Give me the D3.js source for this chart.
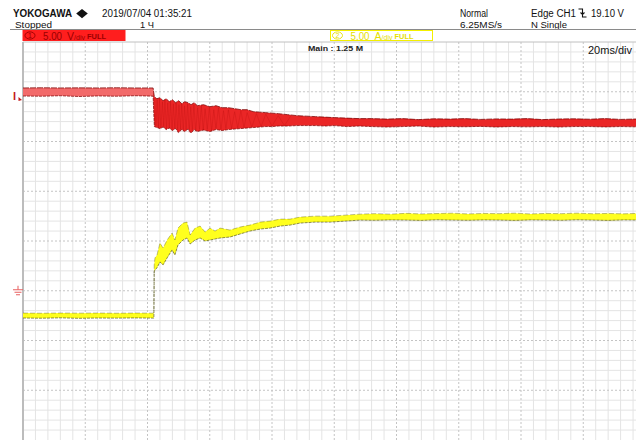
<!DOCTYPE html>
<html>
<head>
<meta charset="utf-8">
<script src="https://cdn.jsdelivr.net/npm/d3@7"></script>
<style>
  html, body { margin: 0; padding: 0; background: #fff; }
  svg { display: block; }
  text { font-family: "Liberation Sans", Arial, sans-serif; }
</style>
</head>
<body>
<svg id="scope" width="636" height="440"></svg>
<script>
// ---- acquisition settings ----
const timePerDiv = 20;          // ms/div
const ch1VoltsPerDiv = 5;       // V/div
const ch2AmpsPerDiv = 5;        // A/div
const timeWindow = [-42, 158];  // ms, trigger at 0

// ---- CH1 voltage envelope: [t (ms), max (V), min (V)] ----
const ch1Envelope = [
  [-42, 20.38, 19.57], [-36, 20.40, 19.55], [-30, 20.38, 19.60], [-24, 20.39, 19.52],
  [-18, 20.38, 19.58], [-12, 20.40, 19.55], [-6, 20.38, 19.60], [-0.2, 20.38, 19.56],
  [0.2, 19.5, 16.5], [1, 19.3, 16.4], [2, 19.4, 16.3], [3, 19.1, 16.45], [4, 19.3, 16.2],
  [5, 19.0, 16.35], [6, 19.2, 16.1], [7, 18.9, 16.3], [8, 19.1, 15.9], [9, 18.8, 16.2],
  [10, 19.0, 16.0], [11, 18.9, 16.25], [12, 18.7, 15.85], [13, 18.9, 16.2], [14, 18.6, 16.0],
  [16, 18.7, 16.15], [18, 18.5, 16.0], [20, 18.6, 16.2], [22, 18.4, 16.1], [24, 18.4, 16.2],
  [26, 18.3, 16.25], [28, 18.2, 16.3], [30, 18.2, 16.35], [32, 18.0, 16.4], [34, 17.95, 16.45],
  [36, 17.9, 16.5], [38, 17.85, 16.5], [40, 17.8, 16.55], [43, 17.7, 16.55], [46, 17.6, 16.6],
  [49, 17.55, 16.6], [52, 17.5, 16.6], [55, 17.45, 16.55], [58, 17.4, 16.6], [62, 17.35, 16.5],
  [66, 17.3, 16.55], [70, 17.3, 16.5], [75, 17.25, 16.45], [80, 17.3, 16.5], [85, 17.2, 16.55],
  [90, 17.28, 16.45], [95, 17.25, 16.5], [100, 17.3, 16.48], [105, 17.22, 16.52], [110, 17.27, 16.45],
  [115, 17.25, 16.5], [120, 17.3, 16.47], [125, 17.2, 16.5], [130, 17.26, 16.45], [135, 17.28, 16.5],
  [140, 17.24, 16.5], [145, 17.3, 16.46], [150, 17.22, 16.5], [155, 17.26, 16.47], [158, 17.25, 16.5]
];

// ---- CH1 ringing after the load step: [t (ms), V] ----
const ch1Ringing = [
  [0.3, 19.4], [0.7, 16.6], [1.1, 19.2], [1.5, 16.4], [1.9, 19.3], [2.3, 16.3], [2.8, 19.0],
  [3.2, 16.5], [3.6, 19.2], [4.1, 16.2], [4.5, 18.9], [5.0, 16.4], [5.4, 19.0], [5.9, 16.1],
  [6.3, 18.8], [6.8, 16.3], [7.2, 19.0], [7.7, 15.9], [8.1, 18.7], [8.6, 16.2], [9.0, 18.9],
  [9.5, 16.0], [9.9, 18.6], [10.4, 16.2], [10.9, 18.8], [11.4, 15.9], [11.9, 18.5], [12.4, 16.1],
  [12.9, 18.7], [13.5, 16.0], [14.1, 18.4], [14.7, 16.2], [15.3, 18.6], [15.9, 16.1], [16.5, 18.3],
  [17.2, 16.2], [17.9, 18.5], [18.6, 16.0], [19.3, 18.2], [20.0, 16.3], [20.8, 18.4], [21.6, 16.2],
  [22.4, 18.1], [23.2, 16.3], [24.0, 18.2], [25, 16.3], [26, 18.0], [27, 16.35], [28, 18.1],
  [29, 16.4], [30, 17.9], [31.5, 16.45], [33, 17.8], [34.5, 16.5], [36, 17.75], [38, 16.55],
  [40, 17.6], [42, 16.6], [44, 17.55]
];

// ---- CH2 current envelope: [t (ms), max (A), min (A)] ----
const ch2Envelope = [
  [-42, 0.26, -0.24], [-36, 0.24, -0.26], [-30, 0.26, -0.22], [-24, 0.25, -0.27],
  [-18, 0.26, -0.24], [-12, 0.24, -0.25], [-6, 0.26, -0.23], [-0.1, 0.25, -0.25],
  [0.05, 0.4, -0.25], [0.15, 5.1, 4.4], [0.4, 5.8, 4.6], [1.06, 6.1, 4.8], [2.0, 7.3, 5.4],
  [3.0, 6.8, 5.1], [4.3, 7.6, 5.8], [5.9, 8.3, 6.6], [6.8, 7.6, 6.1], [7.8, 8.8, 7.1],
  [9.4, 9.3, 7.6], [10.7, 9.4, 7.8], [11.7, 8.1, 7.2], [13.3, 8.8, 7.6], [14.9, 9.0, 7.8],
  [16.5, 8.4, 7.5], [18.1, 8.8, 7.6], [19.7, 8.5, 7.7], [21.3, 8.8, 7.8], [24.5, 8.6, 7.9],
  [27.7, 8.9, 8.2], [30.9, 9.1, 8.5], [34.2, 9.4, 8.7], [37.4, 9.5, 8.8], [40.6, 9.7, 9.0],
  [43.8, 9.7, 9.1], [47, 9.9, 9.3], [51.8, 10.0, 9.4], [56.7, 10.0, 9.4], [61.5, 10.1, 9.5],
  [66.3, 10.2, 9.6], [71, 10.25, 9.58], [76, 10.2, 9.62], [81, 10.28, 9.6], [86, 10.22, 9.57],
  [91, 10.26, 9.63], [96, 10.3, 9.6], [101, 10.22, 9.58], [106, 10.27, 9.62], [111, 10.25, 9.6],
  [116, 10.3, 9.57], [121, 10.22, 9.62], [126, 10.27, 9.6], [131, 10.25, 9.58], [136, 10.3, 9.63],
  [141, 10.24, 9.6], [146, 10.27, 9.57], [151, 10.23, 9.62], [156, 10.28, 9.6], [158, 10.25, 9.6]
];

// ---- screen texts ----
const headerLeft = { brand: "YOKOGAWA", date: "2019/07/04 01:35:21", state: "Stopped", count: "1 Ч" };
const headerRight = { mode: "Normal", rate: "6.25MS/s", trig: "Edge CH1", level: "19.10 V", acq: "N Single" };
const ch1Label = ["1", "5.00", "V/div", "FULL"];
const ch2Label = ["2", "5.00", "A/div", "FULL"];
const recordLabel = "Main : 1.25 M";
const timebaseLabel = "20ms/div";

// ---- layout ----
const W = 636, H = 440;
const plot = { left: 23, top: 42, right: 645.5, bottom: 440 };
const svg = d3.select("#scope");

const nDivX = (timeWindow[1] - timeWindow[0]) / timePerDiv;   // 10
const x = d3.scaleLinear().domain(timeWindow).range([plot.left, plot.right]);
const yDiv = d3.scaleLinear().domain([0, 8]).range([plot.bottom, plot.top]);
// channel offsets: CH1 ground at +3 div, CH2 zero at +2.5 div
const yV = d3.scaleLinear().domain([0, 8 * ch1VoltsPerDiv]).range([yDiv(3), yDiv(11)]);
const yA = d3.scaleLinear().domain([0, 8 * ch2AmpsPerDiv]).range([yDiv(2.5), yDiv(10.5)]);

svg.append("rect").attr("width", W).attr("height", H).attr("fill", "#fff");

svg.append("defs").append("clipPath").attr("id", "plotClip")
  .append("rect").attr("x", plot.left).attr("y", plot.top)
  .attr("width", W - plot.left).attr("height", plot.bottom - plot.top);

// ---- graticule ----
const grid = svg.append("g");
const minorX = d3.range(0, nDivX * 5 + 1).map(k => timeWindow[0] + k * timePerDiv / 5);
const minorY = d3.range(0, 8 * 5 + 1).map(k => k / 5);

grid.selectAll(".vmin").data(minorX.filter((d, i) => i % 5 !== 0)).join("line")
  .attr("x1", d => x(d)).attr("x2", d => x(d))
  .attr("y1", plot.top).attr("y2", plot.bottom)
  .attr("stroke", "#e4e4e4").attr("stroke-width", 1);
grid.selectAll(".hmin").data(minorY.filter((d, i) => i % 5 !== 0)).join("line")
  .attr("x1", plot.left).attr("x2", W)
  .attr("y1", d => yDiv(d)).attr("y2", d => yDiv(d))
  .attr("stroke", "#e4e4e4").attr("stroke-width", 1);
grid.selectAll(".vmaj").data(minorX.filter((d, i) => i % 5 === 0 && i > 0)).join("line")
  .attr("x1", d => x(d)).attr("x2", d => x(d))
  .attr("y1", plot.top).attr("y2", plot.bottom)
  .attr("stroke", "#c4c4c4").attr("stroke-width", 1).attr("stroke-dasharray", "2,2");
grid.selectAll(".hmaj").data(d3.range(1, 8)).join("line")
  .attr("x1", plot.left).attr("x2", W)
  .attr("y1", d => yDiv(d)).attr("y2", d => yDiv(d))
  .attr("stroke", "#c4c4c4").attr("stroke-width", 1).attr("stroke-dasharray", "2,2");
// frame
grid.append("line").attr("x1", plot.left).attr("x2", W).attr("y1", plot.top).attr("y2", plot.top)
  .attr("stroke", "#c0c0c0").attr("stroke-width", 1);
grid.append("line").attr("x1", plot.left).attr("x2", plot.left).attr("y1", plot.top).attr("y2", plot.bottom)
  .attr("stroke", "#bcbcbc").attr("stroke-width", 2);

// ---- waveforms ----
const traces = svg.append("g").attr("clip-path", "url(#plotClip)");

function drawTrace(env, yScale, opts) {
  const area = d3.area().x(d => x(d[0])).y0(d => yScale(d[2])).y1(d => yScale(d[1]));
  const pre = env.filter(d => d[0] < 0);
  traces.append("path").datum(pre).attr("d", area).attr("fill", opts.preFill);
  traces.append("path").datum(env.filter(d => d[0] >= pre[pre.length - 1][0])).attr("d", area).attr("fill", opts.fill);
  const top = d3.line().x(d => x(d[0])).y(d => yScale(d[1]));
  const bot = d3.line().x(d => x(d[0])).y(d => yScale(d[2]));
  traces.append("path").datum(env).attr("d", top).attr("fill", "none")
    .attr("stroke", opts.edge).attr("stroke-width", opts.edgeW).attr("stroke-opacity", opts.topOpacity)
    .attr("stroke-dasharray", opts.topDash || null);
  traces.append("path").datum(env).attr("d", bot).attr("fill", "none")
    .attr("stroke", opts.edge).attr("stroke-width", opts.edgeW).attr("stroke-opacity", opts.botOpacity)
    .attr("stroke-dasharray", opts.botDash || null);
}

drawTrace(ch2Envelope, yA, {
  preFill: "#ffff1e", fill: "#ffff1e", edge: "#4a4a10", edgeW: 0.9,
  topOpacity: 0.4, botOpacity: 0.7, topDash: "5,2", botDash: "3,1"
});
drawTrace(ch1Envelope, yV, {
  preFill: "#f26a6a", fill: "#ea2626", edge: "#7a0000", edgeW: 1,
  topOpacity: 0.75, botOpacity: 0.7, topDash: "6,1", botDash: "3,1"
});

traces.append("path").datum(ch1Ringing)
  .attr("d", d3.line().x(d => x(d[0])).y(d => yV(d[1])))
  .attr("fill", "none").attr("stroke", "#9a0000").attr("stroke-width", 0.5).attr("stroke-opacity", 0.35);

// ---- channel markers ----
svg.append("text").attr("x", 13).attr("y", 100).text("I")
  .attr("font-family", "Liberation Serif, serif").attr("font-weight", "bold")
  .attr("font-size", 11).attr("fill", "#c41a1a");
svg.append("path").attr("d", "M18.5,97 L22,100 L18.5,101 Z").attr("fill", "#c41a1a");

const gnd = svg.append("g").attr("stroke", "#e86060").attr("stroke-width", 1).attr("fill", "none");
const gy = yV(0);
gnd.append("line").attr("x1", 18).attr("x2", 18).attr("y1", gy - 5).attr("y2", gy - 1);
gnd.append("line").attr("x1", 13).attr("x2", 23).attr("y1", gy - 1).attr("y2", gy - 1);
gnd.append("line").attr("x1", 14.5).attr("x2", 21.5).attr("y1", gy + 1.5).attr("y2", gy + 1.5);
gnd.append("line").attr("x1", 16).attr("x2", 20).attr("y1", gy + 4).attr("y2", gy + 4);

// ---- header ----
const hdr = svg.append("g").attr("fill", "#111");
hdr.append("text").attr("x", 13).attr("y", 17).text(headerLeft.brand)
  .attr("font-size", 11).attr("font-weight", "bold")
  .attr("textLength", 59).attr("lengthAdjust", "spacingAndGlyphs");
hdr.append("path").attr("d", "M82,9 L87.8,13.6 L82,18.2 L76.2,13.6 Z").attr("fill", "#111");
hdr.append("text").attr("x", 102).attr("y", 17).text(headerLeft.date)
  .attr("font-size", 10).attr("textLength", 90).attr("lengthAdjust", "spacingAndGlyphs");
hdr.append("text").attr("x", 15).attr("y", 28).text(headerLeft.state)
  .attr("font-size", 9.5).attr("textLength", 37).attr("lengthAdjust", "spacingAndGlyphs");
hdr.append("text").attr("x", 140).attr("y", 28).text(headerLeft.count)
  .attr("font-size", 9.5).attr("textLength", 14).attr("lengthAdjust", "spacingAndGlyphs");

hdr.append("text").attr("x", 460).attr("y", 16.5).text(headerRight.mode)
  .attr("font-size", 10).attr("textLength", 28).attr("lengthAdjust", "spacingAndGlyphs");
hdr.append("text").attr("x", 460).attr("y", 27.8).text(headerRight.rate)
  .attr("font-size", 9.5).attr("textLength", 42).attr("lengthAdjust", "spacingAndGlyphs");
hdr.append("text").attr("x", 531).attr("y", 16.5).text(headerRight.trig)
  .attr("font-size", 10).attr("textLength", 45).attr("lengthAdjust", "spacingAndGlyphs");
// falling-edge trigger symbol
hdr.append("path").attr("d", "M578.5,9 H582.5 V17 H586.5 M580.5,12.5 L582.5,14.5 L584.5,12.5")
  .attr("fill", "none").attr("stroke", "#111").attr("stroke-width", 1.1);
hdr.append("text").attr("x", 591).attr("y", 16.5).text(headerRight.level)
  .attr("font-size", 10).attr("textLength", 33).attr("lengthAdjust", "spacingAndGlyphs");
hdr.append("text").attr("x", 531).attr("y", 27.8).text(headerRight.acq)
  .attr("font-size", 9.5).attr("textLength", 36).attr("lengthAdjust", "spacingAndGlyphs");

svg.append("line").attr("x1", 10).attr("x2", W).attr("y1", 29.5).attr("y2", 29.5)
  .attr("stroke", "#8a8a8a").attr("stroke-width", 1);

// ---- channel setting boxes ----
function channelBox(x0, lbl, boxFill, boxStroke, ink) {
  const g = svg.append("g");
  g.append("rect").attr("x", x0).attr("y", 30.5).attr("width", 102).attr("height", 10)
    .attr("fill", boxFill).attr("stroke", boxStroke).attr("stroke-width", 1);
  g.append("ellipse").attr("cx", x0 + 7).attr("cy", 35.5).attr("rx", 5).attr("ry", 3.6)
    .attr("fill", "none").attr("stroke", ink).attr("stroke-width", 0.9);
  g.append("text").attr("x", x0 + 7).attr("y", 38.2).attr("text-anchor", "middle").text(lbl[0])
    .attr("font-size", 7).attr("fill", ink);
  g.append("text").attr("x", x0 + 20).attr("y", 39.5).text(lbl[1])
    .attr("font-size", 10.5).attr("fill", ink).attr("textLength", 19).attr("lengthAdjust", "spacingAndGlyphs");
  g.append("text").attr("x", x0 + 44).attr("y", 39.5).text(lbl[2].slice(0, 1))
    .attr("font-size", 10.5).attr("fill", ink);
  g.append("text").attr("x", x0 + 51).attr("y", 39.5).text(lbl[2].slice(1))
    .attr("font-size", 7).attr("fill", ink).attr("textLength", 11).attr("lengthAdjust", "spacingAndGlyphs");
  g.append("text").attr("x", x0 + 64).attr("y", 39).text(lbl[3])
    .attr("font-size", 7.5).attr("font-weight", "bold").attr("fill", ink)
    .attr("textLength", 19).attr("lengthAdjust", "spacingAndGlyphs");
}
channelBox(23, ch1Label, "#ff1e1e", "#ff1e1e", "#9a0000");
channelBox(330.5, ch2Label, "#ffffff", "#f4f000", "#e6e000");

svg.append("text").attr("x", 308).attr("y", 50.5).text(recordLabel)
  .attr("font-size", 7.5).attr("font-weight", "bold").attr("fill", "#222")
  .attr("textLength", 55).attr("lengthAdjust", "spacingAndGlyphs");
svg.append("text").attr("x", 588).attr("y", 53.5).text(timebaseLabel)
  .attr("font-size", 11).attr("fill", "#111")
  .attr("textLength", 44).attr("lengthAdjust", "spacingAndGlyphs");
</script>
</body>
</html>
